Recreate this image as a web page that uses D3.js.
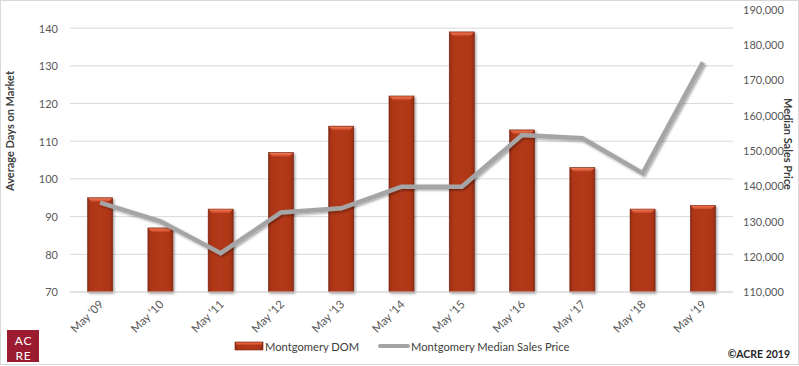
<!DOCTYPE html>
<html><head><meta charset="utf-8">
<script src="https://cdn.jsdelivr.net/npm/d3@7"></script>
<style>
body{margin:0;background:#fff;}
svg{display:block;font-family:Lato, "Open Sans", sans-serif;}
</style></head>
<body>
<svg id="c" width="799" height="366"></svg>
<script>
const categories = ["May '09","May '10","May '11","May '12","May '13","May '14","May '15","May '16","May '17","May '18","May '19"];
const domValues = [95, 87, 92, 107, 114, 122, 139, 113, 103, 92, 93];
const priceValues = [135300, 130000, 121000, 132500, 133700, 139800, 139800, 154400, 153500, 143600, 175000];
const leftTicks = [70, 80, 90, 100, 110, 120, 130, 140];
const rightTicks = [110000, 120000, 130000, 140000, 150000, 160000, 170000, 180000, 190000];
const seriesNames = ["Montgomery DOM", "Montgomery Median Sales Price"];

const svg = d3.select("#c");
const W = 799, H = 366;
const plot = {left: 70, right: 733, top: 9.3, bottom: 292};

// border
svg.append("rect").attr("x",0.5).attr("y",0.5).attr("width",W-1).attr("height",H-2)
  .attr("fill","#fff").attr("stroke","#d9d9d9");

const defs = svg.append("defs");
const g1 = defs.append("linearGradient").attr("id","barGrad").attr("x1","0").attr("x2","1").attr("y1","0").attr("y2","0");
g1.append("stop").attr("offset","0").attr("stop-color","#8e2a12");
g1.append("stop").attr("offset","0.12").attr("stop-color","#ad3618");
g1.append("stop").attr("offset","0.5").attr("stop-color","#b3391a");
g1.append("stop").attr("offset","0.88").attr("stop-color","#ad3618");
g1.append("stop").attr("offset","1").attr("stop-color","#8e2a12");
const g2 = defs.append("linearGradient").attr("id","topGrad").attr("x1","0").attr("x2","0").attr("y1","0").attr("y2","1");
g2.append("stop").attr("offset","0").attr("stop-color","#f07a55");
g2.append("stop").attr("offset","1").attr("stop-color","#c84524");
const f = defs.append("filter").attr("id","shadow").attr("x","-10%").attr("y","-10%").attr("width","130%").attr("height","130%");
f.append("feDropShadow").attr("dx",1.5).attr("dy",1.5).attr("stdDeviation",1.2).attr("flood-color","#000").attr("flood-opacity",0.35);

const x = d3.scaleBand().domain(categories).range([plot.left, plot.right]).paddingInner(0.585).paddingOuter(0.2925);
const yL = d3.scaleLinear().domain([70,145]).range([plot.bottom, plot.top]);
const yR = d3.scaleLinear().domain([110000,190000]).range([plot.bottom, plot.top]);

// gridlines
svg.append("g").selectAll("line").data(leftTicks).join("line")
  .attr("x1",plot.left).attr("x2",plot.right)
  .attr("y1",d=>yL(d)).attr("y2",d=>yL(d))
  .attr("stroke","#d9d9d9").attr("stroke-width",1);

// left axis
const axL = svg.append("g").attr("transform",`translate(${plot.left-12},0)`)
  .call(d3.axisLeft(yL).tickValues(leftTicks).tickSize(0).tickPadding(0).tickFormat(d3.format("d")));
axL.select(".domain").remove();
axL.selectAll("text").attr("font-size",11).attr("fill","#595959").attr("font-family","Lato, sans-serif").attr("dy","0.35em");

// right axis
const axR = svg.append("g").attr("transform",`translate(743,0)`)
  .call(d3.axisRight(yR).tickValues(rightTicks).tickSize(0).tickPadding(0).tickFormat(d3.format(",")));
axR.select(".domain").remove();
axR.selectAll("text").attr("font-size",11).attr("fill","#595959").attr("font-family","Lato, sans-serif").attr("dy","0.35em");

// x axis labels
const axX = svg.append("g").attr("transform",`translate(0,${plot.bottom})`)
  .call(d3.axisBottom(x).tickSize(0).tickPadding(0));
axX.select(".domain").remove();
axX.selectAll("text")
  .attr("font-size",11.5).attr("fill","#595959").attr("font-family","Lato, sans-serif")
  .attr("text-anchor","end").attr("dy",0)
  .attr("transform","translate(4,13) rotate(-45)");

// bars
const bars = svg.append("g");
bars.selectAll("rect.bar").data(domValues).join("rect").attr("class","bar")
  .attr("x",(d,i)=>x(categories[i])).attr("width",x.bandwidth())
  .attr("y",d=>yL(d)).attr("height",d=>yL(70)-yL(d))
  .attr("fill","url(#barGrad)").attr("stroke","#7a2410").attr("stroke-width",0.6)
  .attr("filter","url(#shadow)");
bars.selectAll("path.top").data(domValues).join("path").attr("class","top")
  .attr("d",(d,i)=>{const x0=x(categories[i]), w=x.bandwidth(), y0=yL(d);
    return `M${x0+0.5},${y0+0.5}L${x0+w-0.5},${y0+0.5}L${x0+w-4},${y0+4}L${x0+4},${y0+4}Z`;})
  .attr("fill","url(#topGrad)");

// axis baseline
svg.append("line").attr("x1",plot.left).attr("x2",plot.right).attr("y1",plot.bottom).attr("y2",plot.bottom)
  .attr("stroke","#d9d9d9").attr("stroke-width",1);

// line
const line = d3.line().x((d,i)=>x(categories[i])+x.bandwidth()/2).y(d=>yR(d));
svg.append("path").datum(priceValues).attr("d",line)
  .attr("fill","none").attr("stroke","#a5a5a5").attr("stroke-width",4.5)
  .attr("stroke-linejoin","miter").attr("filter","url(#shadow)");

// axis titles
svg.append("text").attr("transform","translate(14,131) rotate(-90)")
  .attr("text-anchor","middle").attr("font-size",11).attr("font-weight","bold")
  .attr("fill","#404040").text("Average Days on Market");
svg.append("text").attr("transform","translate(784,144) rotate(90)")
  .attr("text-anchor","middle").attr("font-size",11).attr("font-weight","bold")
  .attr("fill","#404040").text("Median Sales Price");

// legend
const lg = svg.append("g");
lg.append("rect").attr("x",235).attr("y",342).attr("width",28).attr("height",8)
  .attr("fill","url(#barGrad)").attr("stroke","#7a2410").attr("stroke-width",0.6);
lg.append("rect").attr("x",236).attr("y",342.5).attr("width",26).attr("height",2).attr("fill","#e2613c");
lg.append("text").attr("x",265).attr("y",350.5).attr("font-size",11.2).attr("fill","#404040").text(seriesNames[0]);
lg.append("line").attr("x1",380).attr("x2",408).attr("y1",346).attr("y2",346)
  .attr("stroke","#a5a5a5").attr("stroke-width",4).attr("stroke-linecap","round");
lg.append("text").attr("x",411).attr("y",350.5).attr("font-size",11.2).attr("fill","#404040").text(seriesNames[1]);

// logo
svg.append("rect").attr("x",7).attr("y",330).attr("width",32).attr("height",32).attr("fill","#9b1b30");
svg.append("text").attr("x",23.5).attr("y",344.5).attr("text-anchor","middle").attr("font-size",12)
  .attr("letter-spacing",0.8).attr("fill","#fff").attr("font-family","Lato, sans-serif").text("AC");
svg.append("text").attr("x",23.5).attr("y",359.5).attr("text-anchor","middle").attr("font-size",12)
  .attr("letter-spacing",0.8).attr("fill","#fff").attr("font-family","Lato, sans-serif").text("RE");

// copyright
svg.append("text").attr("x",790).attr("y",358).attr("text-anchor","end").attr("font-size",10.5)
  .attr("font-weight","bold").attr("fill","#262626").text("©ACRE 2019");
</script>
</body></html>
